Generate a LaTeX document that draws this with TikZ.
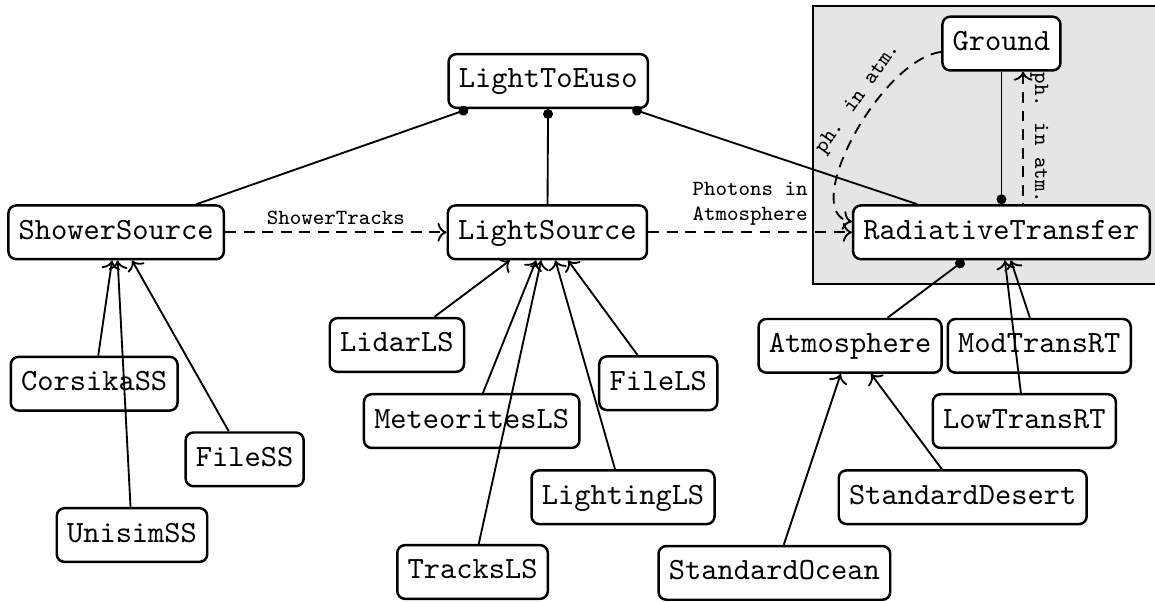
\documentclass[tikz,border=0pt]{standalone}
\usepackage{tikz}
\usetikzlibrary{arrows.meta}

\begin{document}
\begin{tikzpicture}[
  box/.style={draw,thick,fill=white,rounded corners=2.5pt,font=\ttfamily,text height=7.6pt,text depth=3.1pt},
  lbl/.style={font=\scriptsize\ttfamily,inner sep=2pt},
  flow/.style={semithick,dash pattern=on 3.5pt off 2.5pt,->},
  owns/.style={semithick,-{Circle[length=3.2pt]}},
  impl/.style={semithick,->}]
  \useasboundingbox (0,0) rectangle (13.125,6.83);
  % grey frame round the transfer part
  \draw[thick,fill=gray!20] (9.24,3.6) rectangle (13.4,6.76);
  % main modules
  \node[box] (LightToEuso) at (6.23,5.91) {LightToEuso};
  \node[box] (ShowerSource) at (1.32,4.19) {ShowerSource};
  \node[box] (LightSource) at (6.22,4.19) {LightSource};
  \node[box] (RadiativeTransfer) at (11.38,4.19) {RadiativeTransfer};
  \node[box] (Ground) at (11.38,6.335) {Ground};
  % implementations: name/x/y
  \foreach \n/\x/\y in {CorsikaSS/1.07/2.47, FileSS/2.78/1.61, UnisimSS/1.50/0.75,
      LidarLS/4.51/2.91, MeteoritesLS/5.36/2.045, TracksLS/5.37/0.33,
      LightingLS/7.08/1.18, FileLS/7.48/2.475,
      Atmosphere/9.66/2.90, ModTransRT/11.81/2.90, LowTransRT/11.64/2.045,
      StandardDesert/10.94/1.18, StandardOcean/8.80/0.32}{
    \node[box] (\n) at (\x,\y) {\n};
  }
  % children -> parent
  \foreach \a/\b in {CorsikaSS/ShowerSource, FileSS/ShowerSource, UnisimSS/ShowerSource,
      LidarLS/LightSource, MeteoritesLS/LightSource, TracksLS/LightSource,
      LightingLS/LightSource, FileLS/LightSource,
      ModTransRT/RadiativeTransfer, LowTransRT/RadiativeTransfer,
      StandardOcean/Atmosphere, StandardDesert/Atmosphere}{
    \draw[impl] (\a) -- (\b);
  }
  % owned modules (dot at the owner)
  \foreach \a/\b in {ShowerSource/LightToEuso, LightSource/LightToEuso,
      RadiativeTransfer/LightToEuso, Ground/RadiativeTransfer, Atmosphere/RadiativeTransfer}{
    \draw[owns] (\a) -- (\b);
  }
  % data flow
  \draw[flow] (ShowerSource) -- node[lbl,above] {ShowerTracks} (LightSource);
  \draw[flow] (LightSource) -- node[lbl,above,align=left] {Photons in\\Atmosphere} (RadiativeTransfer);
  \draw[flow,<-] ([xshift=7pt]Ground.south) -- node[lbl,sloped,above] {ph. in atm.} ([xshift=7pt]RadiativeTransfer.north);
  \draw[flow] ([yshift=-2.7pt]Ground.west) .. controls (10.0,6.15) and (9.07,4.41)
    .. node[lbl,sloped,above,pos=0.38] {ph. in atm.} ([yshift=3.4pt]RadiativeTransfer.west);
\end{tikzpicture}
\end{document}
